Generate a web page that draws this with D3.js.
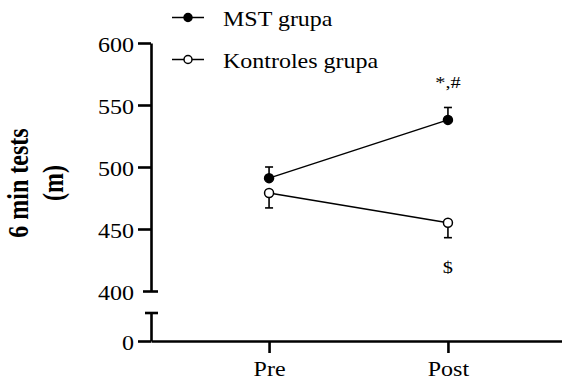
<!DOCTYPE html>
<html>
<head>
<meta charset="utf-8">
<script src="https://cdn.jsdelivr.net/npm/d3@7"></script>
<style>
  html, body { margin: 0; padding: 0; background: #fff; }
  svg { display: block; }
  text { font-family: "Liberation Serif", "Times New Roman", serif; fill: #000; }
</style>
</head>
<body>
<svg id="chart" width="562" height="384"></svg>
<script>
// ---- data ----
const categories = ["Pre", "Post"];
const seriesNames = ["MST grupa", "Kontroles grupa"];
const mstMean = [491, 538];
const mstSem = [9, 10];
const kontrolesMean = [479, 455];
const kontrolesSem = [12, 12];
const yTicksUpper = [400, 450, 500, 550, 600];
const yTicksLower = [0];
const annotations = [
  { cat: "Post", text: "*,#", pos: "above" },
  { cat: "Post", text: "$", pos: "below" }
];
const yTitleLines = ["6 min tests", "(m)"];

// ---- layout ----
const SX = 1.2; // horizontal stretch of the original picture
const svg = d3.select("#chart");
const axisX = 151;
const x = d3.scalePoint().domain(categories).range([axisX, 566]).padding(0.66);
const yU = d3.scaleLinear().domain([400, 600]).range([291, 43]);
const yL = d3.scaleLinear().domain([0, 22]).range([341, 313]);

const series = [
  { name: seriesNames[0], mean: mstMean, sem: mstSem, filled: true, dir: -1 },
  { name: seriesNames[1], mean: kontrolesMean, sem: kontrolesSem, filled: false, dir: 1 }
];

function styleAxis(g) {
  g.selectAll("path.domain").attr("stroke", "#000").attr("stroke-width", 2.6);
  g.selectAll(".tick line").attr("stroke", "#000").attr("stroke-width", 2.6);
  g.selectAll(".tick text")
    .attr("font-size", 20)
    .attr("font-family", "Liberation Serif, Times New Roman, serif")
    .attr("fill", "#000");
}

// upper y axis
const gyU = svg.append("g").attr("transform", `translate(${axisX},0)`)
  .call(d3.axisLeft(yU).tickValues(yTicksUpper).tickSizeInner(13).tickSizeOuter(0).tickPadding(4));
styleAxis(gyU);
gyU.selectAll(".tick text")
  .attr("x", -17 / SX).attr("dy", "0.4em")
  .attr("transform", `scale(${SX},1)`);
gyU.selectAll(".tick").filter(d => d === 400).select("line")
  .attr("x1", 7).attr("x2", -8);

// lower y axis segment
const gyL = svg.append("g").attr("transform", `translate(${axisX},0)`)
  .call(d3.axisLeft(yL).tickValues(yTicksLower).tickSizeInner(13).tickSizeOuter(0).tickPadding(4));
styleAxis(gyL);
gyL.selectAll(".tick text")
  .attr("x", -17 / SX).attr("dy", "0.4em")
  .attr("transform", `scale(${SX},1)`);
gyL.append("line").attr("x1", -6).attr("x2", 7)
  .attr("y1", yL.range()[1]).attr("y2", yL.range()[1])
  .attr("stroke", "#000").attr("stroke-width", 2.6);

// x axis
const gx = svg.append("g").attr("transform", `translate(0,${yL(0)})`)
  .call(d3.axisBottom(x).tickSizeInner(12).tickSizeOuter(0));
styleAxis(gx);
gx.selectAll(".tick text").attr("y", 35).attr("dy", 0)
  .attr("transform", `scale(${SX},1)`);

// y title
const yTitle = svg.append("g")
  .attr("transform", `translate(28,183) scale(${SX},1) rotate(-90)`);
yTitleLines.forEach((t, i) => {
  yTitle.append("text")
    .attr("x", 0).attr("y", i * 35 / SX)
    .attr("text-anchor", "middle")
    .attr("font-size", 24).attr("font-weight", "bold")
    .text(t);
});

// series
const line = d3.line().x((d, i) => x(categories[i])).y(d => yU(d));
series.forEach(s => {
  svg.append("path").datum(s.mean)
    .attr("d", line).attr("fill", "none")
    .attr("stroke", "#000").attr("stroke-width", 1.5);
  const eg = svg.append("g");
  eg.selectAll("line.err").data(s.mean).join("line")
    .attr("x1", (d, i) => x(categories[i])).attr("x2", (d, i) => x(categories[i]))
    .attr("y1", d => yU(d))
    .attr("y2", (d, i) => yU(d - s.dir * s.sem[i]))
    .attr("stroke", "#000").attr("stroke-width", 1.6);
  eg.selectAll("line.cap").data(s.mean).join("line")
    .attr("x1", (d, i) => x(categories[i]) - 4).attr("x2", (d, i) => x(categories[i]) + 4)
    .attr("y1", (d, i) => yU(d - s.dir * s.sem[i]))
    .attr("y2", (d, i) => yU(d - s.dir * s.sem[i]))
    .attr("stroke", "#000").attr("stroke-width", 1.6);
  svg.append("g").selectAll("circle").data(s.mean).join("circle")
    .attr("cx", (d, i) => x(categories[i])).attr("cy", d => yU(d))
    .attr("r", 4.5)
    .attr("fill", s.filled ? "#000" : "#fff")
    .attr("stroke", "#000").attr("stroke-width", 1.5);
});

// annotations
annotations.forEach(a => {
  const ax = x(a.cat);
  const ay = a.pos === "above" ? 88 : 273;
  svg.append("g").attr("transform", `translate(${ax},${ay}) scale(${SX},1)`)
    .append("text").attr("text-anchor", "middle").attr("font-size", 17).text(a.text);
});

// legend
series.forEach((s, i) => {
  const ly = 17.5 + i * 42;
  const lg = svg.append("g").attr("transform", `translate(0,${ly})`);
  lg.append("line").attr("x1", 172).attr("x2", 204).attr("y1", 0).attr("y2", 0)
    .attr("stroke", "#000").attr("stroke-width", 1.5);
  lg.append("circle").attr("cx", 188).attr("cy", 0).attr("r", 4)
    .attr("fill", s.filled ? "#000" : "#fff").attr("stroke", "#000").attr("stroke-width", 1.5);
  lg.append("g").attr("transform", `translate(223,8) scale(${SX},1)`)
    .append("text").attr("font-size", 20).text(s.name);
});
</script>
</body>
</html>
